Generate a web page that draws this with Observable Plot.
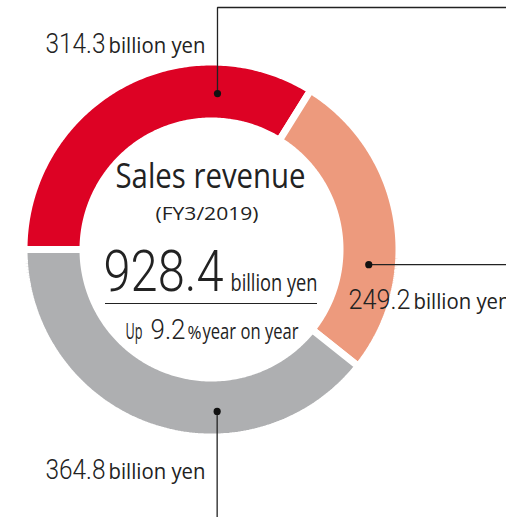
<!DOCTYPE html>
<html><head><meta charset="utf-8">
<script src="https://cdn.jsdelivr.net/npm/d3@7"></script>
<script src="https://cdn.jsdelivr.net/npm/@observablehq/plot@0.6"></script>
<style>html,body{margin:0;padding:0;background:#fff;} #chart svg{display:block;}</style>
</head><body><div id="chart"></div>
<script>
// ---- data ----
const segmentKeys = ["seg1", "seg2", "seg3"];
const segmentValues = [314.3, 249.2, 364.8];
const unitLabel = "billion yen";
const titleText = "Sales revenue";
const periodText = "(FY3/2019)";
const totalValue = 928.4;
const growthValue = 9.2;

// ---- layout ----
const W = 506, H = 517, CX = 211, CY = 249;
const R_OUT = 184, R_IN = 132, GAP = 7;
const INK = "#222";
const px = (x) => x - CX;           // pixel x -> data x
const py = (y) => CY - y;           // pixel y -> data y (up)

// ring polygons from d3.pie angles (clockwise from 12 o'clock, starting at 9 o'clock)
const arcs = d3.pie().sort(null).startAngle(-Math.PI / 2).endAngle(1.5 * Math.PI)(segmentValues);
const ring = arcs.flatMap((a, i) => {
  const n = 160, pts = [];
  const ro = R_OUT + GAP / 2, ri = R_IN - GAP / 2;
  for (let k = 0; k <= n; k++) {
    const t = a.startAngle + (a.endAngle - a.startAngle) * k / n;
    pts.push({key: segmentKeys[i], x: ro * Math.sin(t), y: ro * Math.cos(t)});
  }
  for (let k = n; k >= 0; k--) {
    const t = a.startAngle + (a.endAngle - a.startAngle) * k / n;
    pts.push({key: segmentKeys[i], x: ri * Math.sin(t), y: ri * Math.cos(t)});
  }
  return pts;
});

// leader anchors (angle in degrees clockwise from top, radius)
const anchorSpec = [{deg: 2.2, r: 156}, {deg: 95.5, r: 158}, {deg: 178, r: 162}];
const anchors = anchorSpec.map((s, i) => {
  const t = s.deg * Math.PI / 180;
  return {key: segmentKeys[i], x: s.r * Math.sin(t), y: s.r * Math.cos(t)};
});
const leaders = [
  [anchors[0], {x: anchors[0].x, y: py(7)}, {x: px(W), y: py(7)}],
  [anchors[1], {x: px(W), y: anchors[1].y}],
  [anchors[2], {x: anchors[2].x, y: py(H)}]
].flatMap((pts, i) => pts.map(p => ({id: i, x: p.x, y: p.y})));

const fmt = d3.format(".1f");
// number pieces (light) and word pieces (regular): pixel x start, baseline, font size, target width
const numberItems = [
  {t: fmt(segmentValues[0]), x: 45, y: 52, s: 27, w: 60},
  {t: fmt(segmentValues[1]), x: 348, y: 308, s: 27, w: 62},
  {t: fmt(segmentValues[2]), x: 45, y: 478, s: 27, w: 60},
  {t: fmt(totalValue), x: 103, y: 290, s: 58, w: 120},
  {t: fmt(growthValue), x: 150, y: 338, s: 28, w: 35}
];
const wordItems = [
  {t: unitLabel, x: 108, y: 52, s: 21, w: 97},
  {t: unitLabel, x: 413, y: 308, s: 21, w: 97},
  {t: unitLabel, x: 108, y: 478, s: 21, w: 97},
  {t: titleText, x: 115, y: 187, s: 35, w: 190},
  {t: periodText, x: 155, y: 219, s: 18, w: 103},
  {t: unitLabel, x: 230, y: 290, s: 24, w: 87},
  {t: "Up", x: 125, y: 338, s: 21, w: 17},
  {t: "%", x: 187, y: 338, s: 18, w: 14},
  {t: "year on year", x: 202, y: 338, s: 21, w: 96}
];

const chart = Plot.plot({
  width: W, height: H,
  margin: 0,
  x: {domain: [-CX, W - CX], axis: null},
  y: {domain: [-(H - CY), CY], axis: null},
  color: {domain: segmentKeys, range: ["#DD0224", "#ED9A7D", "#AEAFB1"]},
  style: {background: "#fff"},
  marks: [
    Plot.line(ring, {x: "x", y: "y", z: "key", fill: "key", stroke: "white", strokeWidth: GAP, strokeLinejoin: "miter", curve: "linear-closed"}),
    Plot.line(leaders, {x: "x", y: "y", z: "id", stroke: INK, strokeWidth: 1.3, strokeLinejoin: "miter"}),
    Plot.dot(anchors, {x: "x", y: "y", r: 3.6, fill: "#111", stroke: null}),
    Plot.ruleY([{y: py(303), x1: px(105), x2: px(317)}], {y: "y", x1: "x1", x2: "x2", stroke: INK, strokeWidth: 1.2}),
    Plot.text(wordItems, {x: d => px(d.x), y: d => py(d.y), text: "t", fontSize: "s", textAnchor: "start", lineAnchor: "bottom", fill: INK, fontFamily: "'Open Sans', 'Noto Sans', sans-serif", fontWeight: 400}),
    Plot.text(numberItems, {x: d => px(d.x), y: d => py(d.y), text: "t", fontSize: "s", textAnchor: "start", lineAnchor: "bottom", fill: INK, fontFamily: "Roboto, 'Liberation Sans', sans-serif", fontWeight: 300})
  ]
});

// condense the text pieces to the widths of the reference lettering
const groups = d3.select(chart).selectAll('g[aria-label="text"]').nodes();
[wordItems, numberItems].forEach((items, gi) => {
  d3.select(groups[gi]).selectAll("text").each(function(_, j) {
    if (items[j]) d3.select(this).attr("textLength", items[j].w).attr("lengthAdjust", "spacingAndGlyphs");
  });
});

document.getElementById("chart").appendChild(chart);
</script>
</body></html>
